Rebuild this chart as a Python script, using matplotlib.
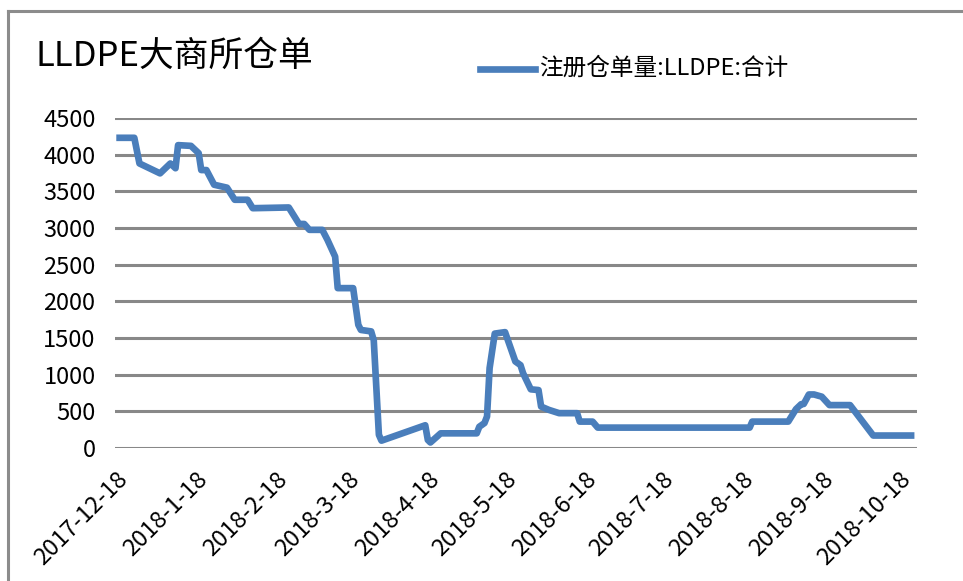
import matplotlib
matplotlib.use("Agg")
import matplotlib.pyplot as plt
import matplotlib.dates as mdates
import pandas as pd
from matplotlib.lines import Line2D

plt.rcParams['font.family'] = ['Noto Sans CJK SC', 'DejaVu Sans']

title = "LLDPE大商所仓单"
series_name = "注册仓单量:LLDPE:合计"

dates = ["2017-12-18", "2017-12-25", "2017-12-27", "2018-01-04", "2018-01-08",
         "2018-01-10", "2018-01-11", "2018-01-16", "2018-01-19", "2018-01-20",
         "2018-01-22", "2018-01-25", "2018-01-30", "2018-02-02", "2018-02-07",
         "2018-02-09", "2018-02-23", "2018-02-27", "2018-03-01", "2018-03-03",
         "2018-03-08", "2018-03-10", "2018-03-13", "2018-03-14", "2018-03-20",
         "2018-03-22", "2018-03-23", "2018-03-27", "2018-03-28", "2018-03-30",
         "2018-03-31", "2018-04-17", "2018-04-18", "2018-04-19", "2018-04-23",
         "2018-05-07", "2018-05-08", "2018-05-10", "2018-05-11", "2018-05-12",
         "2018-05-14", "2018-05-18", "2018-05-22", "2018-05-24", "2018-05-25",
         "2018-05-28", "2018-05-31", "2018-06-01", "2018-06-04", "2018-06-08",
         "2018-06-15", "2018-06-16", "2018-06-21", "2018-06-23", "2018-08-21",
         "2018-08-22", "2018-09-05", "2018-09-08", "2018-09-10", "2018-09-11",
         "2018-09-13", "2018-09-15", "2018-09-18", "2018-09-21", "2018-09-29",
         "2018-10-08", "2018-10-24"]
values = [4230, 4230, 3880, 3745, 3880,
          3815, 4130, 4120, 4020, 3790,
          3790, 3590, 3550, 3385, 3385,
          3270, 3280, 3055, 3055, 2975,
          2975, 2840, 2610, 2180, 2180,
          1680, 1610, 1590, 1470, 180,
          100, 310, 110, 75, 200,
          200, 290, 340, 430, 1090,
          1560, 1580, 1180, 1130, 1020,
          800, 790, 565, 520, 475,
          475, 360, 360, 278, 278,
          360, 360, 530, 597, 600,
          730, 730, 700, 585, 585,
          170, 170]

tick_dates = ["2017-12-18", "2018-01-18", "2018-02-18", "2018-03-18", "2018-04-18",
              "2018-05-18", "2018-06-18", "2018-07-18", "2018-08-18", "2018-09-18",
              "2018-10-18"]
tick_labels = ["2017-12-18", "2018-1-18", "2018-2-18", "2018-3-18", "2018-4-18",
               "2018-5-18", "2018-6-18", "2018-7-18", "2018-8-18", "2018-9-18",
               "2018-10-18"]
y_ticks = [0, 500, 1000, 1500, 2000, 2500, 3000, 3500, 4000, 4500]

W, H = 963, 581
fig = plt.figure(figsize=(W / 100, H / 100), dpi=100)
ax = fig.add_axes([115 / W, 1 - 448 / H, (917 - 115) / W, (448 - 118) / H])

x = pd.to_datetime(dates)
ax.plot(x, values, color="#4a7ebb", lw=4.8, solid_joinstyle="round",
        solid_capstyle="butt", zorder=3, clip_on=False)

ax.set_ylim(0, 4500)
ax.set_yticks(y_ticks)
ax.set_yticklabels([str(v) for v in y_ticks], fontsize=17)
ax.set_xlim(pd.Timestamp("2017-12-17 12:00"), pd.Timestamp("2018-10-25"))
ax.set_xticks(pd.to_datetime(tick_dates))
ax.set_xticklabels(tick_labels, fontsize=17, rotation=45, ha="right",
                   va="top", rotation_mode="anchor")
ax.tick_params(axis="both", length=0)
ax.tick_params(axis="y", pad=14)
ax.tick_params(axis="x", pad=14)

for s in ax.spines.values():
    s.set_visible(False)
ax.grid(axis="y", color="#888888", lw=2.2, zorder=1)
ax.grid(axis="x", visible=False)
ax.set_axisbelow(True)

# title and legend
fig.text(35 / W, 1 - 56 / H, title, fontsize=25, ha="left", va="center")
fig.add_artist(Line2D([480 / W, 535 / W], [1 - 69 / H, 1 - 69 / H],
                      color="#4a7ebb", lw=4.8, transform=fig.transFigure))
fig.text(539 / W, 1 - 68 / H, series_name, fontsize=17, ha="left", va="center")

# outer frame
fig.add_artist(Line2D([8 / W, 8 / W], [0, 1 - 11 / H], color="#8c8c8c", lw=2.2,
                      transform=fig.transFigure))
fig.add_artist(Line2D([8 / W, 1], [1 - 11 / H, 1 - 11 / H], color="#8c8c8c", lw=2.2,
                      transform=fig.transFigure))

fig.savefig("out.png", dpi=100)
